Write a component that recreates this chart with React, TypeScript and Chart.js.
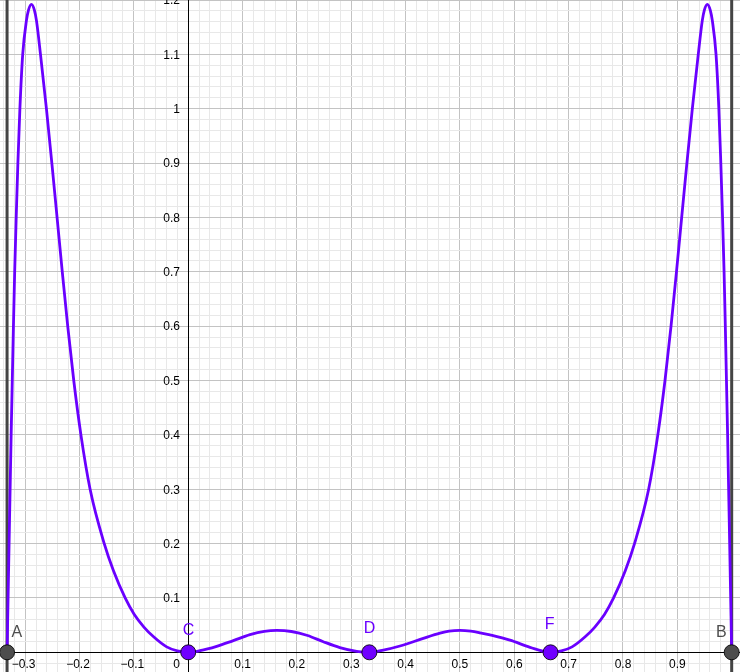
import React, { useEffect, useRef } from "react";
import { Chart, registerables } from "chart.js";

Chart.register(...registerables);

// ---- data ----
const curveX = [
  -0.3333, -0.3296, -0.3258, -0.3216, -0.3193, -0.3165, -0.3134, -0.3097, -0.3045, -0.2977, -0.294, -0.2885,
  -0.2829, -0.2792, -0.2718, -0.2609, -0.2509, -0.2413, -0.2317, -0.2217, -0.2106, -0.1974, -0.1805, -0.1545,
  -0.1375, -0.116, -0.0995, -0.0815, -0.0642, -0.0396, -0.02, 0,
  0.0217, 0.0524, 0.083, 0.1137, 0.14, 0.163, 0.19, 0.2196, 0.2486, 0.279, 0.31, 0.3333,
  0.359, 0.3897, 0.4326, 0.4633, 0.48, 0.5, 0.52, 0.537, 0.5553, 0.592, 0.629, 0.6667,
  0.6867, 0.7063, 0.7309, 0.7482, 0.7662, 0.7827, 0.8042, 0.8212, 0.8472, 0.8641, 0.8773, 0.8884, 0.8984, 0.908,
  0.9176, 0.9276, 0.9385,
  0.9459, 0.9496, 0.9552, 0.9607, 0.9644, 0.9712, 0.9764, 0.98, 0.9832, 0.986, 0.9883, 0.9925, 0.9963, 1.0,
];
const curveY = [
  0, 0.2, 0.4, 0.6, 0.7, 0.8, 0.9, 1.0, 1.1, 1.162, 1.181, 1.192,
  1.181, 1.162, 1.1, 1.0, 0.9, 0.8, 0.7, 0.6, 0.5, 0.4, 0.3, 0.2,
  0.15, 0.1, 0.07, 0.0465, 0.029, 0.01, 0.0026, 0,
  0.003, 0.011, 0.0215, 0.0325, 0.0386, 0.0404, 0.0383, 0.031, 0.0195, 0.0088, 0.0018, 0,
  0.004, 0.0116, 0.0257, 0.0352, 0.039, 0.0404, 0.039, 0.036, 0.032, 0.0224, 0.0092, 0,
  0.0026, 0.01, 0.029, 0.0465, 0.07, 0.1, 0.15, 0.2, 0.3, 0.4, 0.5, 0.6, 0.7, 0.8,
  0.9, 1.0, 1.1,
  1.162, 1.181, 1.192, 1.181, 1.162, 1.1, 1.0, 0.9, 0.8, 0.7, 0.6, 0.4, 0.2, 0,
];

const pointNames = ["A", "B", "C", "D", "F"];
const pointX = [-0.3333, 1.0, 0, 0.3333, 0.6667];
const pointY = [0, 0, 0, 0, 0];

const xTickValues = [-0.3, -0.2, -0.1, 0, 0.1, 0.2, 0.3, 0.4, 0.5, 0.6, 0.7, 0.8, 0.9];
const xTickLabels = ["\u22120.3", "\u22120.2", "\u22120.1", "0", "0.1", "0.2", "0.3", "0.4", "0.5", "0.6", "0.7", "0.8", "0.9"];
const yTickValues = [0.1, 0.2, 0.3, 0.4, 0.5, 0.6, 0.7, 0.8, 0.9, 1.0, 1.1, 1.2];
const yTickLabels = ["0.1", "0.2", "0.3", "0.4", "0.5", "0.6", "0.7", "0.8", "0.9", "1", "1.1", "1.2"];

// visible window
const xMin = -0.3463;
const xMax = 1.0153;
const yMin = -0.0362;
const yMax = 1.2;

// ---- styles ----
const CURVE = "#6a00ff";
const PURPLE_POINT = "#7000ff";
const GRAY_POINT = "#4d4d4d";
const MAJOR = "#c3c3c3";
const MINOR = "#e8e8e8";
const FONT_FAMILY = '"Liberation Sans", Arial, Helvetica, sans-serif';

const pointStyle: Record<string, { fill: string; text: string; dx: number; dy: number }> = {
  A: { fill: GRAY_POINT, text: GRAY_POINT, dx: 4.5, dy: -15.6 },
  B: { fill: GRAY_POINT, text: GRAY_POINT, dx: -15.7, dy: -15.6 },
  C: { fill: PURPLE_POINT, text: CURVE, dx: -5.5, dy: -17.5 },
  D: { fill: PURPLE_POINT, text: CURVE, dx: -5.6, dy: -19.6 },
  F: { fill: PURPLE_POINT, text: CURVE, dx: -5.8, dy: -23 },
};

const axesPlugin = {
  id: "geoAxes",
  beforeDatasetsDraw(chart: any) {
    const { ctx, scales } = chart;
    const xs = scales.x;
    const ys = scales.y;
    const x0 = Math.round(xs.getPixelForValue(0)) + 0.5;
    const y0 = Math.round(ys.getPixelForValue(0)) + 0.5;
    ctx.save();
    ctx.strokeStyle = "#000";
    ctx.lineWidth = 1;
    ctx.beginPath();
    ctx.moveTo(chart.chartArea.left, y0);
    ctx.lineTo(chart.chartArea.right, y0);
    ctx.moveTo(x0, chart.chartArea.top);
    ctx.lineTo(x0, chart.chartArea.bottom);
    ctx.stroke();

    ctx.fillStyle = "#000";
    ctx.font = "12px " + FONT_FAMILY;
    ctx.textAlign = "right";
    ctx.textBaseline = "alphabetic";
    yTickValues.forEach((v, i) => {
      ctx.fillText(yTickLabels[i], x0 - 8.5, ys.getPixelForValue(v) + 4.3);
    });
    ctx.textAlign = "center";
    xTickValues.forEach((v, i) => {
      let px = xs.getPixelForValue(v);
      if (v === 0) px -= 11.5;
      else if (v < 0) px -= 1.5;
      ctx.fillText(xTickLabels[i], px, y0 + 15.8);
    });
    ctx.restore();
  },
  afterDatasetsDraw(chart: any) {
    const { ctx, scales } = chart;
    ctx.save();
    ctx.font = "16px " + FONT_FAMILY;
    ctx.textAlign = "left";
    ctx.textBaseline = "alphabetic";
    pointNames.forEach((n, i) => {
      const s = pointStyle[n];
      const px = scales.x.getPixelForValue(pointX[i]);
      const py = scales.y.getPixelForValue(pointY[i]);
      ctx.fillStyle = s.text;
      ctx.fillText(n, px + s.dx, py + s.dy);
    });
    ctx.restore();
  },
};

function gridColor(ctx: any) {
  const v = ctx.tick ? ctx.tick.value : undefined;
  if (v === undefined) return MINOR;
  const k = Math.round(v / 0.02);
  return k % 5 === 0 ? MAJOR : MINOR;
}

export default function App() {
  const ref = useRef<HTMLCanvasElement | null>(null);

  useEffect(() => {
    if (!ref.current) return;
    const curve = curveX.map((x, i) => ({ x, y: curveY[i] }));
    const pts = pointX.map((x, i) => ({ x, y: pointY[i] }));
    const boundA = [
      { x: pointX[0], y: yMin },
      { x: pointX[0], y: yMax },
    ];
    const boundB = [
      { x: pointX[1], y: yMin },
      { x: pointX[1], y: yMax },
    ];

    const chart = new Chart(ref.current, {
      type: "scatter",
      data: {
        datasets: [
          {
            label: "points",
            data: pts,
            showLine: false,
            pointRadius: 7.5,
            pointHoverRadius: 7.5,
            pointBackgroundColor: pointNames.map((n) => pointStyle[n].fill),
            pointBorderColor: "rgba(0,0,0,0.85)",
            pointBorderWidth: 1,
            clip: false,
            order: 0,
          },
          {
            label: "f",
            data: curve,
            showLine: true,
            borderColor: CURVE,
            borderWidth: 2.8,
            pointRadius: 0,
            cubicInterpolationMode: "monotone",
            fill: false,
            order: 1,
          },
          {
            label: "xA",
            data: boundA,
            showLine: true,
            borderColor: "#444444",
            borderWidth: 3,
            pointRadius: 0,
            order: 2,
          },
          {
            label: "xB",
            data: boundB,
            showLine: true,
            borderColor: "#444444",
            borderWidth: 3,
            pointRadius: 0,
            order: 2,
          },
        ],
      },
      options: {
        responsive: false,
        animation: false,
        events: [],
        layout: { padding: 0, autoPadding: false },
        plugins: {
          legend: { display: false },
          tooltip: { enabled: false },
          title: { display: false },
        },
        scales: {
          x: {
            type: "linear",
            min: xMin,
            max: xMax,
            border: { display: false },
            ticks: { display: false, stepSize: 0.02, includeBounds: false },
            grid: { color: gridColor, lineWidth: 1, drawTicks: false },
            afterFit: (s: any) => {
              s.height = 0;
            },
          },
          y: {
            type: "linear",
            min: yMin,
            max: yMax,
            border: { display: false },
            ticks: { display: false, stepSize: 0.02, includeBounds: false },
            grid: { color: gridColor, lineWidth: 1, drawTicks: false },
            afterFit: (s: any) => {
              s.width = 0;
            },
          },
        },
      },
      plugins: [axesPlugin],
    } as any);

    return () => chart.destroy();
  }, []);

  return (
    <div style={{ position: "fixed", left: 0, top: 0, width: 740, height: 672, background: "#fff" }}>
      <canvas ref={ref} width={740} height={672} style={{ display: "block", width: 740, height: 672 }} />
    </div>
  );
}
